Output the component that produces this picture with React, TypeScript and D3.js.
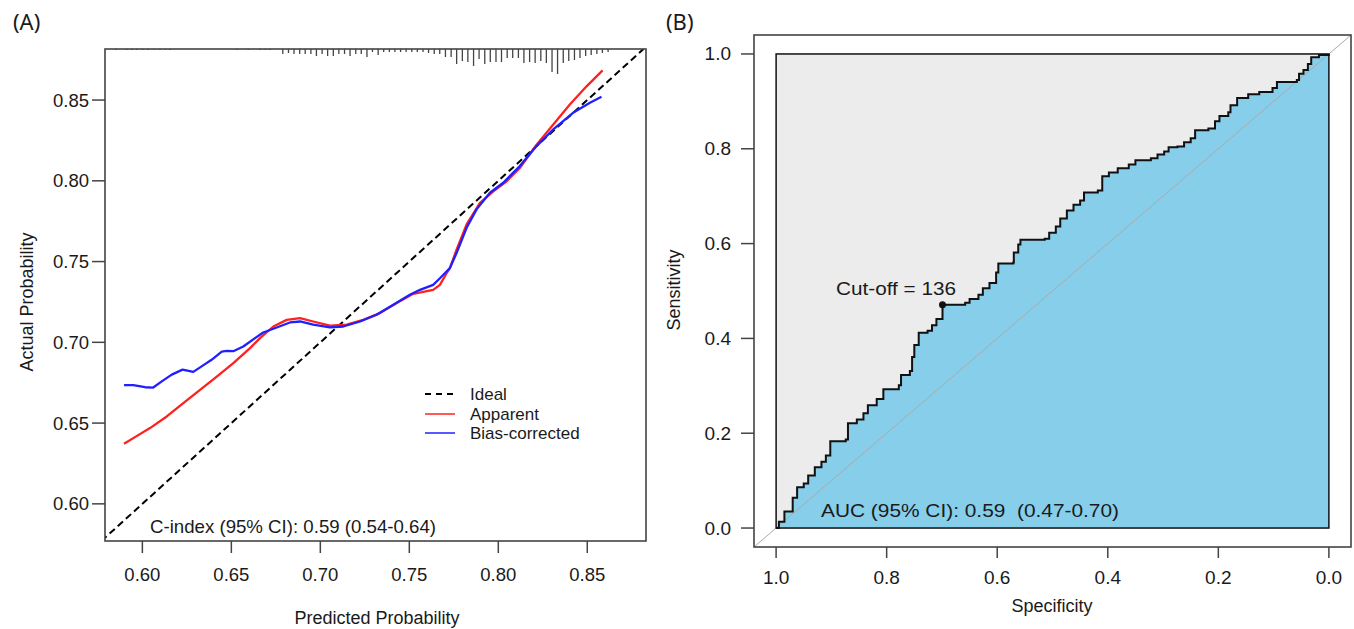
import React from "react";
import * as d3 from "d3";

// ---------- Panel A: calibration ----------
const xTicksA = [0.6, 0.65, 0.7, 0.75, 0.8, 0.85];
const yTicksA = [0.6, 0.65, 0.7, 0.75, 0.8, 0.85];

const apparentX = [0.5897, 0.5949, 0.6043, 0.6137, 0.623, 0.6324, 0.6418, 0.6511, 0.6605, 0.6661, 0.6736, 0.6811, 0.6886, 0.696, 0.7054, 0.7148, 0.7241, 0.7335, 0.7429, 0.7522, 0.7634, 0.7672, 0.771, 0.7728, 0.7766, 0.7822, 0.7897, 0.7972, 0.8047, 0.8121, 0.8215, 0.8309, 0.8402, 0.8496, 0.8586];
const apparentY = [0.6372, 0.6407, 0.6469, 0.6541, 0.6623, 0.6706, 0.6788, 0.6871, 0.6964, 0.7026, 0.7098, 0.7139, 0.715, 0.7129, 0.7104, 0.7109, 0.7139, 0.7181, 0.7243, 0.73, 0.7325, 0.7356, 0.7429, 0.746, 0.7575, 0.773, 0.7863, 0.7935, 0.7997, 0.8079, 0.8224, 0.8348, 0.8472, 0.8585, 0.8684];

const biasX = [0.5897, 0.5949, 0.6015, 0.6061, 0.6109, 0.6165, 0.6226, 0.6286, 0.6333, 0.6389, 0.6446, 0.6474, 0.6511, 0.6567, 0.6633, 0.6679, 0.6755, 0.6829, 0.6886, 0.696, 0.7054, 0.7129, 0.7223, 0.7316, 0.741, 0.7503, 0.756, 0.7634, 0.7672, 0.7728, 0.7766, 0.7822, 0.7878, 0.7953, 0.8028, 0.8121, 0.8215, 0.8309, 0.842, 0.8515, 0.858];
const biasY = [0.6735, 0.6735, 0.6722, 0.672, 0.6758, 0.68, 0.6831, 0.6817, 0.6851, 0.6892, 0.6943, 0.6947, 0.6945, 0.6974, 0.7026, 0.7061, 0.7092, 0.7123, 0.7129, 0.7109, 0.7092, 0.7098, 0.7129, 0.7171, 0.7233, 0.7294, 0.7325, 0.7356, 0.7397, 0.746, 0.7554, 0.7709, 0.7823, 0.7926, 0.7988, 0.8091, 0.8215, 0.8318, 0.8421, 0.8483, 0.852];

const rugValues = [0.5852, 0.5912, 0.594, 0.5968, 0.6002, 0.6033, 0.6065, 0.6099, 0.6127, 0.6155, 0.653, 0.6595, 0.6661, 0.6689, 0.6717,
  0.6789, 0.6821, 0.6852, 0.6884, 0.6915, 0.6947, 0.6978, 0.701, 0.7041, 0.7073, 0.7104, 0.7136, 0.7167, 0.7199, 0.723, 0.7262, 0.7293, 0.7325, 0.7356, 0.7388,
  0.7419, 0.7451, 0.7482, 0.7514, 0.7545, 0.7577, 0.7608, 0.764, 0.7671, 0.7703, 0.7735, 0.7766, 0.7798, 0.7829, 0.7861, 0.7892, 0.7924, 0.7955, 0.7987, 0.8018,
  0.805, 0.8081, 0.8113, 0.8144, 0.8176, 0.8207, 0.8239, 0.827, 0.8302, 0.8333, 0.8365, 0.8396, 0.8428, 0.8459, 0.8491, 0.8522, 0.8554, 0.8585, 0.8617];
const rugCounts = [1, 1, 1, 1, 1, 1, 1, 1, 1, 1, 1, 1, 1, 1, 1,
  5, 4, 5, 5, 5, 5, 7, 5, 7, 7, 5, 5, 7, 5, 5, 8, 3, 6, 3, 3,
  3, 3, 3, 3, 3, 3, 4, 5, 5, 8, 8, 15, 12, 13, 17, 10, 15, 13, 13, 13,
  9, 9, 9, 14, 13, 14, 12, 14, 23, 25, 14, 12, 11, 9, 7, 6, 5, 4, 3];

const idealRange = [0.577, 0.8816];
const legendLabels = ["Ideal", "Apparent", "Bias-corrected"];

// ---------- Panel B: ROC ----------
const rocSpec = [1, 0.995, 0.985, 0.985, 0.97, 0.962, 0.95, 0.942, 0.93, 0.918, 0.91, 0.902, 0.874, 0.87, 0.854, 0.842, 0.834, 0.818, 0.806, 0.778, 0.774, 0.758, 0.754, 0.75, 0.742, 0.726, 0.718, 0.71, 0.699, 0.658, 0.65, 0.634, 0.626, 0.614, 0.602, 0.598, 0.571, 0.57, 0.562, 0.558, 0.514, 0.506, 0.494, 0.486, 0.474, 0.462, 0.45, 0.443, 0.418, 0.41, 0.398, 0.382, 0.362, 0.35, 0.322, 0.31, 0.298, 0.29, 0.274, 0.262, 0.25, 0.242, 0.218, 0.206, 0.198, 0.182, 0.178, 0.166, 0.146, 0.126, 0.102, 0.094, 0.058, 0.054, 0.046, 0.038, 0.032, 0.018, 0];
const rocSens = [0, 0.0135, 0.022, 0.035, 0.064, 0.086, 0.094, 0.111, 0.128, 0.14, 0.153, 0.183, 0.187, 0.221, 0.229, 0.242, 0.259, 0.272, 0.293, 0.301, 0.323, 0.331, 0.361, 0.386, 0.412, 0.416, 0.428, 0.441, 0.471, 0.475, 0.483, 0.492, 0.506, 0.517, 0.539, 0.558, 0.56, 0.581, 0.598, 0.608, 0.61, 0.623, 0.636, 0.653, 0.67, 0.682, 0.691, 0.708, 0.712, 0.742, 0.75, 0.759, 0.767, 0.776, 0.78, 0.788, 0.794, 0.803, 0.805, 0.814, 0.822, 0.839, 0.843, 0.858, 0.869, 0.877, 0.892, 0.907, 0.915, 0.92, 0.928, 0.941, 0.945, 0.958, 0.966, 0.979, 0.993, 0.998, 1];
const cutoffSpec = 0.699;
const cutoffSens = 0.471;
const xTicksB = [1.0, 0.8, 0.6, 0.4, 0.2, 0.0];
const yTicksB = [0.0, 0.2, 0.4, 0.6, 0.8, 1.0];

const FONT = "'Liberation Sans', Arial, Helvetica, sans-serif";
const TXT = "#1a1a1a";

export default function App() {
  // Panel A scales
  const xA = d3.scaleLinear().domain([0.579, 0.883]).range([105, 646]);
  const yA = d3.scaleLinear().domain([0.577, 0.8816]).range([541, 49]);
  const rugLen = d3.scaleLinear().domain([0, 25]).range([0, 25]);
  const lineA = d3.line<[number, number]>().x((d) => xA(d[0])).y((d) => yA(d[1]));
  const appPts = apparentX.map((x, i) => [x, apparentY[i]] as [number, number]);
  const biasPts = biasX.map((x, i) => [x, biasY[i]] as [number, number]);
  const idealPts = idealRange.map((v) => [v, v] as [number, number]);

  // Panel B scales
  const xB = d3.scaleLinear().domain([1.04, -0.04]).range([754, 1351]);
  const yB = d3.scaleLinear().domain([-0.04, 1.04]).range([547, 35]);
  const rocPts = rocSpec.map((s, i) => [s, rocSens[i]] as [number, number]);
  const rocLine = d3
    .line<[number, number]>()
    .x((d) => xB(d[0]))
    .y((d) => yB(d[1]))
    .curve(d3.curveStepAfter);
  const rocArea = d3
    .area<[number, number]>()
    .x((d) => xB(d[0]))
    .y0(yB(0))
    .y1((d) => yB(d[1]))
    .curve(d3.curveStepAfter);

  const legendColors = ["#000", "#ff2020", "#2020ff"];
  const legendY = [394, 414, 433];

  return (
    <svg
      width={1354}
      height={629}
      style={{ position: "absolute", left: 0, top: 0, display: "block", background: "#fff" }}
      fontFamily={FONT}
    >
      <defs>
        <clipPath id="clipA">
          <rect x={105} y={49} width={541} height={492} />
        </clipPath>
      </defs>
      {/* Panel labels */}
      <text x={13} y={30} fontSize={22} fontFamily="'Noto Sans', 'Open Sans', sans-serif" fill={TXT}>(A)</text>
      <text x={666} y={30} fontSize={22} fontFamily="'Noto Sans', 'Open Sans', sans-serif" fill={TXT}>(B)</text>

      {/* ----- Panel A ----- */}
      <g>
        {/* rug */}
        {rugValues.map((v, i) => (
          <line key={"r" + i} x1={xA(v)} x2={xA(v)} y1={49} y2={49 + rugLen(rugCounts[i])} stroke="#444" strokeWidth={1.3} />
        ))}
        <g clipPath="url(#clipA)">
          <path d={lineA(idealPts) || ""} fill="none" stroke="#000" strokeWidth={2} strokeDasharray="7,4" />
          <path d={lineA(appPts) || ""} fill="none" stroke="#ff2020" strokeWidth={2.3} strokeLinejoin="round" />
          <path d={lineA(biasPts) || ""} fill="none" stroke="#2020ff" strokeWidth={2.3} strokeLinejoin="round" />
        </g>
        <rect x={105} y={49} width={541} height={492} fill="none" stroke="#444" strokeWidth={1.6} />
        {/* x axis */}
        {xTicksA.map((t) => (
          <g key={"xa" + t}>
            <line x1={xA(t)} x2={xA(t)} y1={541} y2={553} stroke="#444" strokeWidth={1.5} />
            <text x={xA(t)} y={574} fontSize={18.5} textAnchor="middle" dominantBaseline="central" fill={TXT}>
              {t.toFixed(2)}
            </text>
          </g>
        ))}
        {yTicksA.map((t) => (
          <g key={"ya" + t}>
            <line x1={92} x2={105} y1={yA(t)} y2={yA(t)} stroke="#444" strokeWidth={1.5} />
            <text x={89} y={yA(t)} fontSize={18.5} textAnchor="end" dominantBaseline="central" fill={TXT}>
              {t.toFixed(2)}
            </text>
          </g>
        ))}
        <text x={377} y={618} fontSize={18} textAnchor="middle" dominantBaseline="central" fill={TXT}>
          Predicted Probability
        </text>
        <text
          transform="translate(27,302) rotate(-90)"
          fontSize={18}
          textAnchor="middle"
          dominantBaseline="central"
          fill={TXT}
        >
          Actual Probability
        </text>
        <text x={150} y={526} fontSize={18.5} dominantBaseline="central" fill={TXT} textLength={286} lengthAdjust="spacingAndGlyphs">
          C-index (95% CI): 0.59 (0.54-0.64)
        </text>
        {/* legend */}
        {legendLabels.map((lab, i) => (
          <g key={lab}>
            <line
              x1={425}
              x2={455}
              y1={legendY[i]}
              y2={legendY[i]}
              stroke={legendColors[i]}
              strokeWidth={i === 0 ? 2 : 1.5}
              strokeDasharray={i === 0 ? "6,5" : undefined}
            />
            <text x={470} y={legendY[i]} fontSize={17} dominantBaseline="central" fill={TXT}>
              {lab}
            </text>
          </g>
        ))}
      </g>

      {/* ----- Panel B ----- */}
      <g>
        <rect x={xB(1)} y={yB(1)} width={xB(0) - xB(1)} height={yB(0) - yB(1)} fill="#ececec" />
        <path d={rocArea(rocPts) || ""} fill="#87ceeb" />
        <line x1={xB(1.04)} y1={yB(-0.04)} x2={xB(-0.04)} y2={yB(1.04)} stroke="#aaa" strokeWidth={1} />
        <rect x={xB(1)} y={yB(1)} width={xB(0) - xB(1)} height={yB(0) - yB(1)} fill="none" stroke="#111" strokeWidth={1.5} />
        <path d={rocLine(rocPts) || ""} fill="none" stroke="#111" strokeWidth={2} strokeLinejoin="miter" />
        <circle cx={xB(cutoffSpec)} cy={yB(cutoffSens)} r={3.5} fill="#111" />
        <text x={836} y={289} fontSize={18} dominantBaseline="central" fill={TXT} textLength={120} lengthAdjust="spacingAndGlyphs">
          Cut-off = 136
        </text>
        <text x={821} y={510} fontSize={18.5} dominantBaseline="central" fill={TXT} textLength={298} lengthAdjust="spacingAndGlyphs" xmlSpace="preserve">
          AUC (95% CI): 0.59  (0.47-0.70)
        </text>
        <rect x={754} y={35} width={597} height={512} fill="none" stroke="#444" strokeWidth={1.6} />
        {xTicksB.map((t) => (
          <g key={"xb" + t}>
            <line x1={xB(t)} x2={xB(t)} y1={547} y2={558} stroke="#444" strokeWidth={1.5} />
            <text x={xB(t)} y={577} fontSize={19} textAnchor="middle" dominantBaseline="central" fill={TXT}>
              {t.toFixed(1)}
            </text>
          </g>
        ))}
        {yTicksB.map((t) => (
          <g key={"yb" + t}>
            <line x1={741} x2={754} y1={yB(t)} y2={yB(t)} stroke="#444" strokeWidth={1.5} />
            <text x={731} y={yB(t)} fontSize={19} textAnchor="end" dominantBaseline="central" fill={TXT}>
              {t.toFixed(1)}
            </text>
          </g>
        ))}
        <text x={1052} y={606} fontSize={18} textAnchor="middle" dominantBaseline="central" fill={TXT}>
          Specificity
        </text>
        <text transform="translate(674,290) rotate(-90)" fontSize={18} textAnchor="middle" dominantBaseline="central" fill={TXT}>
          Sensitivity
        </text>
      </g>
    </svg>
  );
}
